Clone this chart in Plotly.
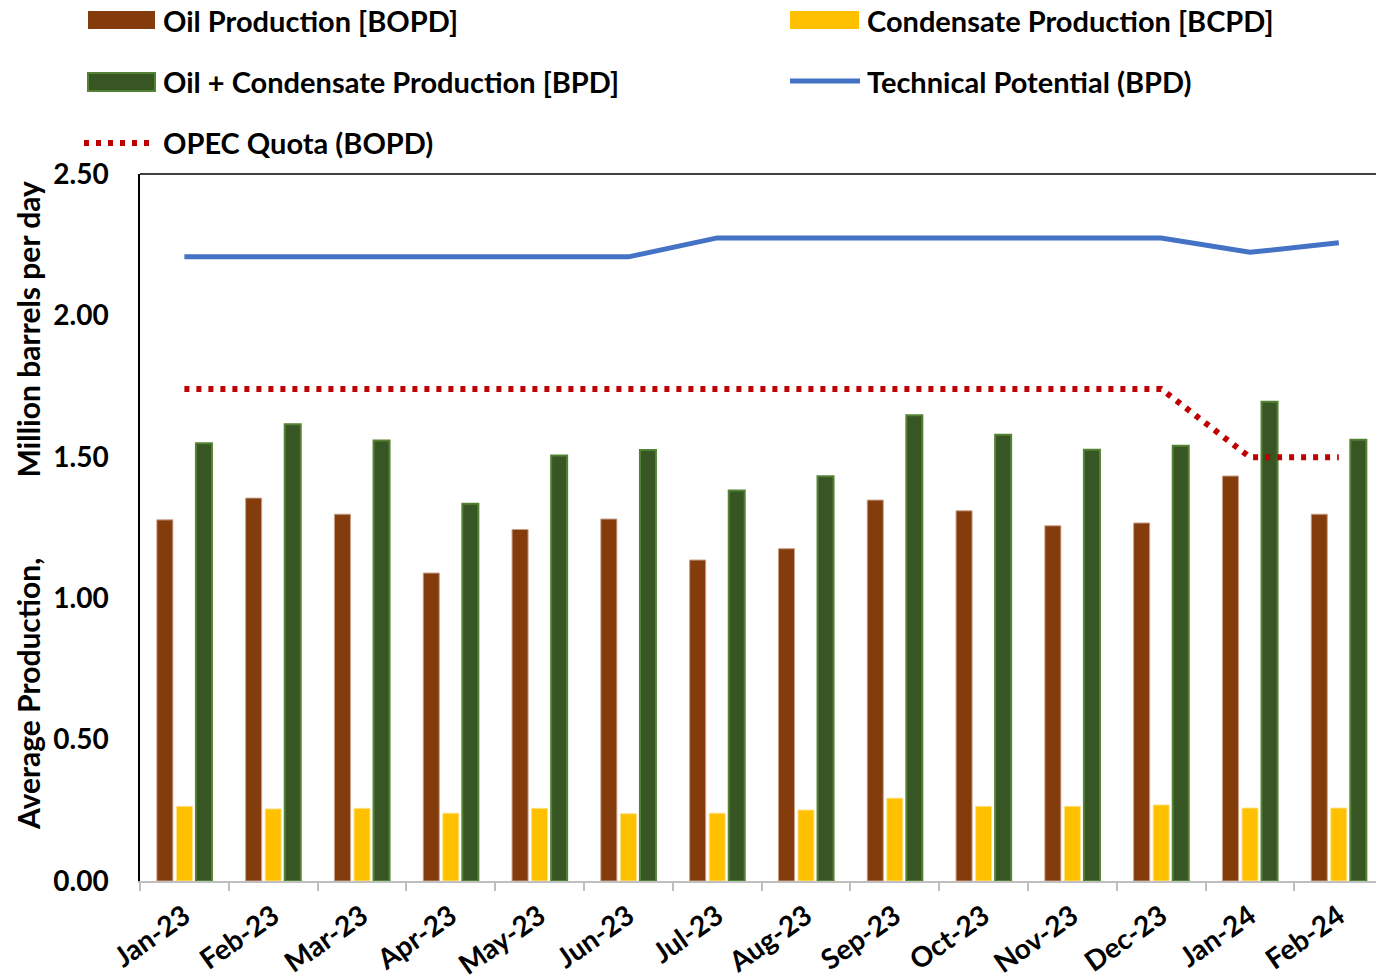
import plotly.graph_objects as go

months = ["Jan-23", "Feb-23", "Mar-23", "Apr-23", "May-23", "Jun-23", "Jul-23",
          "Aug-23", "Sep-23", "Oct-23", "Nov-23", "Dec-23", "Jan-24", "Feb-24"]
oil = [1.277, 1.354, 1.297, 1.089, 1.243, 1.280, 1.135,
       1.175, 1.347, 1.309, 1.256, 1.266, 1.432, 1.297]
condensate = [0.264, 0.255, 0.257, 0.240, 0.257, 0.238, 0.240,
              0.251, 0.293, 0.264, 0.264, 0.269, 0.258, 0.258]
oil_plus_cond = [1.548, 1.615, 1.558, 1.334, 1.505, 1.524, 1.381,
                 1.431, 1.647, 1.578, 1.525, 1.539, 1.695, 1.560]
technical_potential = [2.207, 2.207, 2.207, 2.207, 2.207, 2.207, 2.274,
                       2.274, 2.274, 2.274, 2.274, 2.274, 2.223, 2.257]
opec_quota = [1.740, 1.740, 1.740, 1.740, 1.740, 1.740, 1.740,
              1.740, 1.740, 1.740, 1.740, 1.740, 1.498, 1.498]

names = ["Oil Production [BOPD]", "Condensate Production [BCPD]",
         "Oil + Condensate Production [BPD]", "Technical Potential (BPD)",
         "OPEC Quota (BOPD)"]
y_title = "Average Production," + "\u00a0" * 11 + "Million barrels per day"

C_OIL = "#843C0C"
C_COND = "#FFC000"
C_GREEN = "#375623"
C_GREEN_EDGE = "#548235"
C_BLUE = "#4472C4"
C_RED = "#C00000"

FONT = "Lato"

fig = go.Figure()
fig.add_trace(go.Bar(x=months, y=oil, name=names[0], marker=dict(color=C_OIL, line=dict(color="#C8A089", width=1))))
fig.add_trace(go.Bar(x=months, y=condensate, name=names[1], marker=dict(color=C_COND, line=dict(color="#FFE28A", width=1))))
fig.add_trace(go.Bar(x=months, y=oil_plus_cond, name=names[2], marker=dict(color=C_GREEN, line=dict(color=C_GREEN_EDGE, width=2))))
fig.add_trace(go.Scatter(x=months, y=technical_potential, name=names[3], mode="lines",
                         line=dict(color=C_BLUE, width=5)))
fig.add_trace(go.Scatter(x=months, y=opec_quota, name=names[4], mode="lines",
                         line=dict(color=C_RED, width=6, dash="5px,7px")))

W, H = 1376, 980
L, R, T, B = 140, 0, 174, 99
pw, ph = W - L - R, H - T - B
cat_w = 88.8
x_end = -0.5 + pw / cat_w


def px_x(px):
    return (px - L) / pw


def px_y(py):
    return (H - B - py) / ph


shapes = []
annotations = []
# legend (manual)
legend_items = [
    (names[0], "bar", C_OIL, None, 88, 155, 20),
    (names[1], "bar", C_COND, None, 790, 859, 20),
    (names[2], "bar", C_GREEN, C_GREEN_EDGE, 88, 155, 82),
    (names[3], "line", C_BLUE, None, 790, 860, 81),
    (names[4], "dot", C_RED, None, 84, 152, 143),
]
for text, kind, col, edge, x0, x1, yc in legend_items:
    if kind == "bar":
        shapes.append(dict(type="rect", xref="paper", yref="paper",
                           x0=px_x(x0), x1=px_x(x1), y0=px_y(yc - 9), y1=px_y(yc + 9),
                           fillcolor=col, line=dict(color=edge if edge else col, width=2 if edge else 0)))
    elif kind == "line":
        shapes.append(dict(type="line", xref="paper", yref="paper",
                           x0=px_x(x0), x1=px_x(x1), y0=px_y(yc), y1=px_y(yc),
                           line=dict(color=col, width=5)))
    else:
        shapes.append(dict(type="line", xref="paper", yref="paper",
                           x0=px_x(x0), x1=px_x(x1), y0=px_y(yc), y1=px_y(yc),
                           line=dict(color=col, width=6, dash="5px,7px")))
    tx = 161 if x0 < 400 else 865
    annotations.append(dict(text=text, xref="paper", yref="paper", x=px_x(tx), y=px_y(yc),
                            xanchor="left", yanchor="middle", showarrow=False,
                            font=dict(family=FONT, size=29, color="black", weight="bold")))

# y-axis title
annotations.append(dict(text=y_title, xref="paper", yref="paper", x=px_x(28), y=px_y(506),
                        xanchor="center", yanchor="middle", textangle=-90, showarrow=False,
                        font=dict(family=FONT, size=30, color="black", weight="bold")))

# top border of plot
shapes.append(dict(type="line", xref="paper", yref="paper", x0=0, x1=1, y0=1, y1=1,
                   line=dict(color="black", width=1.5)))

fig.update_layout(
    width=W, height=H,
    margin=dict(l=L, r=R, t=T, b=B, autoexpand=False),
    paper_bgcolor="white", plot_bgcolor="white",
    barmode="group", bargap=0.34, bargroupgap=0.18,
    showlegend=False,
    font=dict(family=FONT, size=28, color="black", weight="bold"),
    shapes=shapes, annotations=annotations,
    xaxis=dict(type="category", range=[-0.5, x_end], showgrid=False,
               showline=True, linecolor="#BFBFBF", linewidth=1.5,
               ticks="outside", tickson="boundaries", ticklen=8, tickcolor="#BFBFBF", tickwidth=1.5,
               ticklabelstandoff=6,
               tickangle=-35, tickfont=dict(family=FONT, size=28, color="black", weight="bold")),
    yaxis=dict(range=[0, 2.5], dtick=0.5, tickformat=".2f", showgrid=False, zeroline=False,
               showline=True, linecolor="black", linewidth=1.5,
               ticks="outside", ticklen=24, tickcolor="rgba(0,0,0,0)",
               tickfont=dict(family=FONT, size=28, color="black", weight="bold")),
)

fig.write_html("out.html", config={"displayModeBar": False},
               post_script="document.body.style.margin='0';")
